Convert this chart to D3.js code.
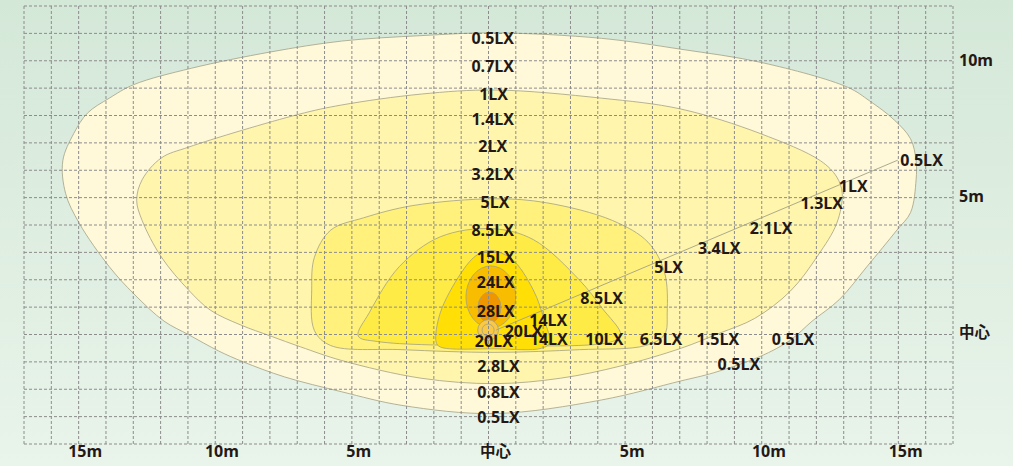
<!DOCTYPE html>
<html><head><meta charset="utf-8">
<script src="https://cdn.jsdelivr.net/npm/d3@7"></script>
<style>
html,body{margin:0;padding:0;background:#fff;}
svg{display:block;}
.lbl{font-family:"Open Sans",sans-serif;font-weight:700;font-size:16px;fill:#231815;}
.cjk{font-family:"Noto Sans CJK JP",sans-serif;font-weight:700;font-size:15.5px;fill:#231815;}
</style></head><body>
<svg id="chart" width="1020" height="466"></svg>
<script>
// ---- data (metres) ----
const xTicks = [-15, -10, -5, 0, 5, 10, 15];
const xTickLabels = ["15m", "10m", "5m", "中心", "5m", "10m", "15m"];
const yTicks = [0, 5, 10];
const yTickLabels = ["中心", "5m", "10m"];

// iso-lux contours, outer to inner
const contour05 = [[0,11.0],[3.9,10.8],[6.8,10.4],[9.8,9.9],[12.9,9.0],[13.7,8.5],[14.6,7.8],[15.2,7.1],[15.4,6.3],[15.4,5.6],[15.2,4.4],[14.7,3.75],[13.6,2.4],[12.6,1.2],[11.6,0.4],[10.8,-0.3],[9.7,-0.9],[8.0,-1.5],[6.8,-1.8],[3.9,-2.5],[0,-3.0],[-3.4,-2.7],[-5.6,-2.2],[-7.7,-1.65],[-9.2,-1.1],[-10.1,-0.7],[-11.2,-0.1],[-12.1,0.4],[-13.2,1.4],[-14.1,2.4],[-15.2,4.0],[-15.7,5.1],[-15.8,6.3],[-15.4,7.3],[-14.9,8.05],[-14.1,8.6],[-13.2,9.1],[-11.1,9.7],[-8.2,10.3],[-5.6,10.7],[-2.7,10.9]];
const contour1 = [[0,8.9],[3.9,8.6],[6.8,8.2],[9.7,7.3],[11.9,6.3],[12.5,5.7],[12.7,5.1],[12.5,4.0],[11.8,2.8],[10.8,1.5],[9.5,0.5],[8.2,-0.05],[6.8,-0.6],[4.6,-1.25],[2.4,-1.7],[0,-1.9],[-2.7,-1.7],[-5.6,-1.05],[-7.1,-0.55],[-8.2,-0.15],[-9.3,0.26],[-10.4,0.8],[-11.2,1.54],[-12.2,2.76],[-12.9,4.1],[-13.1,4.85],[-12.9,5.6],[-12.2,6.4],[-11.2,6.8],[-7.2,8.0],[-5.6,8.35],[-2.7,8.75]];
const contour5 = [[0,4.9],[1.9,4.75],[4.3,4.1],[5.6,3.3],[6.2,2.2],[6.3,0.7],[6.2,-0.1],[5.5,-0.5],[3.1,-0.65],[0,-0.75],[-3.4,-0.65],[-6.0,-0.5],[-6.6,0.05],[-6.7,1.55],[-6.6,2.75],[-6.0,3.75],[-4.8,4.2],[-3.0,4.65]];
const contour85 = [[-0.1,3.8],[1.4,3.4],[3.1,1.9],[3.9,0.9],[4.6,-0.1],[4.3,-0.35],[0,-0.5],[-4.3,-0.35],[-5.0,-0.15],[-4.6,0.7],[-3.5,2.4],[-2.0,3.5]];
const contour15 = [[-0.2,3.0],[0.6,2.7],[1.4,1.55],[1.8,0.45],[2.0,-0.4],[1.7,-0.6],[0,-0.62],[-2.0,-0.55],[-2.15,-0.37],[-2.0,0.7],[-1.25,2.15],[-0.7,2.8]];
// ellipses: [cx, cy, rx, ry]
const ellipse24 = [-0.15, 1.29, 0.91, 1.14];
const ellipse28 = [-0.2, 0.9, 0.42, 0.57];
const circle20 = [-0.25, 0.07, 0.38, 0.22];   // [cx, cy, r outer, r inner]
const rayLine = [[0.04, 0.07], [14.73, 6.32]];

// value labels: [text, x, y] in metres
const centreLabels = [["0.5LX",-0.08,10.81],["0.7LX",-0.08,9.78],["1LX",-0.05,8.76],["1.4LX",-0.08,7.83],["2LX",-0.08,6.84],["3.2LX",-0.08,5.81],["5LX",0,4.79],["8.5LX",-0.08,3.75],["15LX",0.03,2.74],["24LX",0.03,1.82],["28LX",0.03,0.77],["20LX",-0.04,-0.33],["2.8LX",0.13,-1.25],["0.8LX",0.13,-2.2],["0.5LX",0.13,-3.14]];
const rayLabels = [["20LX",1.05,0.04],["14LX",1.95,0.44],["8.5LX",3.9,1.23],["5LX",6.35,2.37],["3.4LX",8.2,3.09],["2.1LX",10.1,3.82],["1.3LX",11.95,4.74],["1LX",13.1,5.37],["0.5LX",15.6,6.32]];
const rowLabels = [["14LX",1.97,-0.26],["10LX",4.0,-0.26],["6.5LX",6.07,-0.26],["1.5LX",8.15,-0.26],["0.5LX",10.9,-0.26],["0.5LX",8.92,-1.18]];

// ---- drawing ----
const svg = d3.select("#chart");
const x = d3.scaleLinear().domain([-17.22, 16.75]).range([24, 953]);
const y = d3.scaleLinear().domain([-4.12, 11.99]).range([444, 6]);

const defs = svg.append("defs");
const g = defs.append("linearGradient").attr("id","bg").attr("x1",0).attr("y1",0).attr("x2",0).attr("y2",1);
g.append("stop").attr("offset","0%").attr("stop-color","#d4e8d8");
g.append("stop").attr("offset","100%").attr("stop-color","#e9f4ea");
svg.append("rect").attr("x",0).attr("y",0).attr("width",1013).attr("height",466).attr("fill","url(#bg)");

const line = d3.line().x(d => x(d[0])).y(d => y(d[1])).curve(d3.curveCatmullRomClosed.alpha(0.5));
const stroke = "#a3a184";
const layers = [[contour05,"#fff9da"],[contour1,"#fff5ad"],[contour5,"#fff17c"],[contour85,"#ffeb45"],[contour15,"#ffdf05"]];
layers.forEach(([pts, col]) => {
  svg.append("path").attr("d", line(pts)).attr("fill", col).attr("stroke", stroke).attr("stroke-width", 0.8);
});
function ell(e, col) {
  svg.append("ellipse").attr("cx", x(e[0])).attr("cy", y(e[1]))
    .attr("rx", x(e[0]+e[2]) - x(e[0])).attr("ry", y(e[1]) - y(e[1]+e[3]))
    .attr("fill", col).attr("stroke", stroke).attr("stroke-width", 0.8);
}
ell(ellipse24, "#f8bd00");
ell(ellipse28, "#ef9500");
svg.append("circle").attr("cx", x(circle20[0])).attr("cy", y(circle20[1]))
  .attr("r", x(circle20[0]+circle20[2]) - x(circle20[0])).attr("fill", "#f9c844").attr("stroke", stroke).attr("stroke-width", 0.8);
svg.append("circle").attr("cx", x(circle20[0])).attr("cy", y(circle20[1]))
  .attr("r", x(circle20[0]+circle20[3]) - x(circle20[0])).attr("fill", "none").attr("stroke", stroke).attr("stroke-width", 0.8);

// grid
const [x0, x1] = x.domain(), [y0, y1] = y.domain();
const nCols = 34, nRows = 16;
const gridG = svg.append("g").attr("stroke", "#8c8c8c").attr("stroke-width", 1).attr("stroke-dasharray", "3,2").attr("fill","none");
d3.range(nCols + 1).forEach(i => {
  const xv = x(x0 + (x1 - x0) * i / nCols);
  gridG.append("line").attr("x1", xv).attr("x2", xv).attr("y1", y(y0)).attr("y2", y(y1));
});
d3.range(nRows + 1).forEach(i => {
  const yv = y(y0 + (y1 - y0) * i / nRows);
  gridG.append("line").attr("y1", yv).attr("y2", yv).attr("x1", x(x0)).attr("x2", x(x1));
});

// ray
svg.append("line").attr("x1", x(rayLine[0][0])).attr("y1", y(rayLine[0][1]))
  .attr("x2", x(rayLine[1][0])).attr("y2", y(rayLine[1][1]))
  .attr("stroke", "#a3a184").attr("stroke-width", 0.9);

// labels
[centreLabels, rayLabels, rowLabels].forEach(arr => {
  svg.append("g").selectAll("text").data(arr).join("text")
    .attr("class", "lbl").attr("text-anchor", "middle")
    .attr("x", d => x(d[1])).attr("y", d => y(d[2])).attr("dy", "0.36em")
    .text(d => d[0]);
});

// axes
const xAxis = d3.axisBottom(x).tickValues(xTicks).tickSize(0).tickPadding(0)
  .tickFormat((d, i) => xTickLabels[i]);
const ax = svg.append("g").attr("transform", "translate(0,451)").call(xAxis);
ax.select(".domain").remove();
ax.selectAll("text").attr("class", (d, i) => xTickLabels[i] === "中心" ? "cjk" : "lbl").attr("dy", "0.36em").attr("y", 0);

const yAxis = d3.axisRight(y).tickValues(yTicks).tickSize(0).tickPadding(0)
  .tickFormat((d, i) => yTickLabels[i]);
const ay = svg.append("g").attr("transform", "translate(959,0)").call(yAxis);
ay.select(".domain").remove();
ay.selectAll("text").attr("class", (d, i) => yTickLabels[i] === "中心" ? "cjk" : "lbl").attr("dy", "0.36em").attr("x", 0);
</script></body></html>
